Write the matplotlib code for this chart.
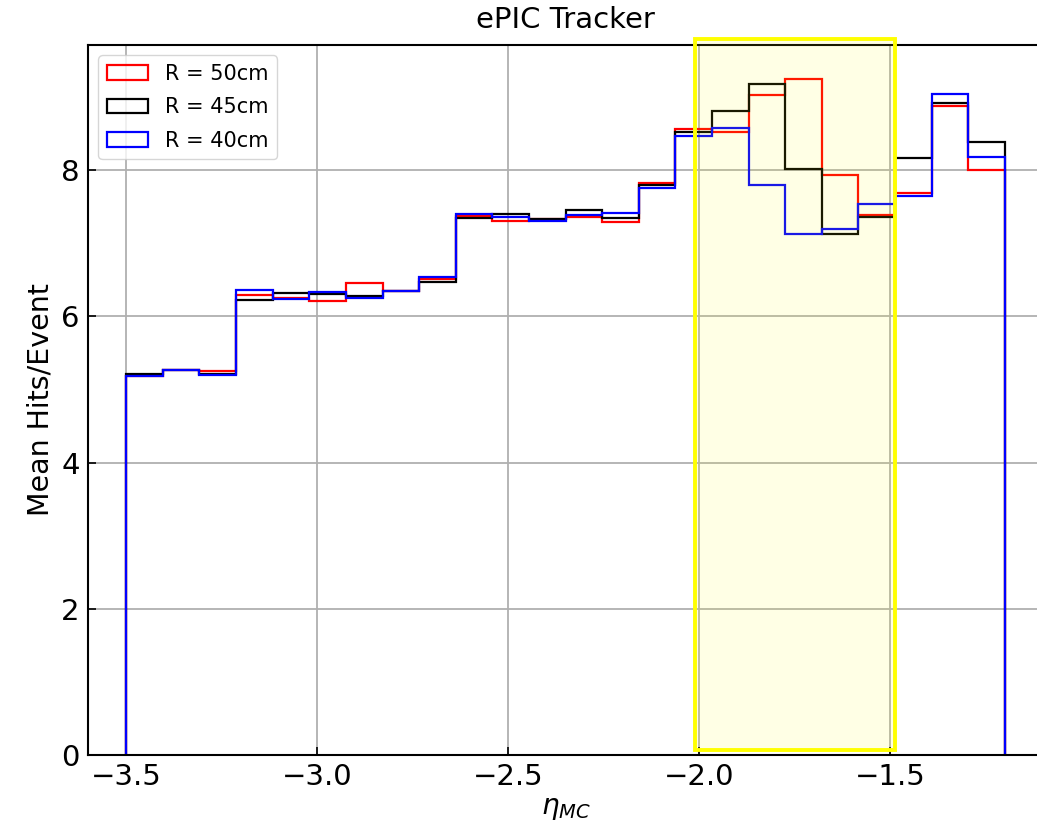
import numpy as np
import matplotlib
matplotlib.use("Agg")
import matplotlib.pyplot as plt
from matplotlib.patches import Rectangle

# Binning in eta_MC
eta_min, eta_max, n_bins = -3.5, -1.2, 24

labels = ["R = 50cm", "R = 45cm", "R = 40cm"]
colors = ["red", "black", "blue"]

r50 = [5.19, 5.26, 5.25, 6.29, 6.25, 6.21, 6.46, 6.35, 6.51, 7.37, 7.31, 7.33,
       7.36, 7.29, 7.82, 8.56, 8.52, 9.03, 9.25, 7.93, 7.38, 7.69, 8.88, 8.00]
r45 = [5.21, 5.27, 5.21, 6.22, 6.32, 6.31, 6.28, 6.35, 6.47, 7.34, 7.40, 7.33,
       7.45, 7.34, 7.80, 8.52, 8.81, 9.17, 8.02, 7.12, 7.36, 8.16, 8.92, 8.38]
r40 = [5.19, 5.26, 5.20, 6.36, 6.23, 6.33, 6.25, 6.35, 6.54, 7.40, 7.36, 7.30,
       7.39, 7.41, 7.75, 8.47, 8.57, 7.80, 7.13, 7.20, 7.53, 7.65, 9.04, 8.18]

highlight = (-2.01, -1.487)  # eta range of highlighted region

edges = np.linspace(eta_min, eta_max, n_bins + 1)
centers = 0.5 * (edges[:-1] + edges[1:])

fig = plt.figure(figsize=(10.37, 8.32), dpi=100)
ax = fig.add_axes([0.0849, 0.0925, 0.921, 0.8534])

for vals, lab, col in zip([r50, r45, r40], labels, colors):
    ax.hist(centers, bins=edges, weights=vals, histtype="step",
            color=col, lw=1.6, label=lab)

ax.set_xlim(-3.6, -1.1)
ax.set_ylim(0, 9.71)
ax.set_xticks([-3.5, -3.0, -2.5, -2.0, -1.5])
ax.set_yticks([0, 2, 4, 6, 8])
ax.grid(True, color="#b0b0b0", lw=1.3)
ax.set_axisbelow(True)
ax.tick_params(direction="in", length=6, width=1.2, labelsize=21, pad=6)
for s in ax.spines.values():
    s.set_linewidth(1.5)

rect = Rectangle((highlight[0], 0.07), highlight[1] - highlight[0], 9.72,
                 facecolor=(1.0, 1.0, 0.0, 0.1), edgecolor="yellow",
                 lw=2.8, clip_on=False, zorder=3)
ax.add_patch(rect)

ax.set_xlabel(r"$\eta_{MC}$", fontsize=20, labelpad=2)
ax.set_ylabel("Mean Hits/Event", fontsize=20.5, labelpad=5)
ax.set_title("ePIC Tracker", fontsize=21, pad=12)
ax.legend(loc="upper left", fontsize=15, framealpha=0.8, labelspacing=0.65)

fig.savefig("out.png", dpi=100)
